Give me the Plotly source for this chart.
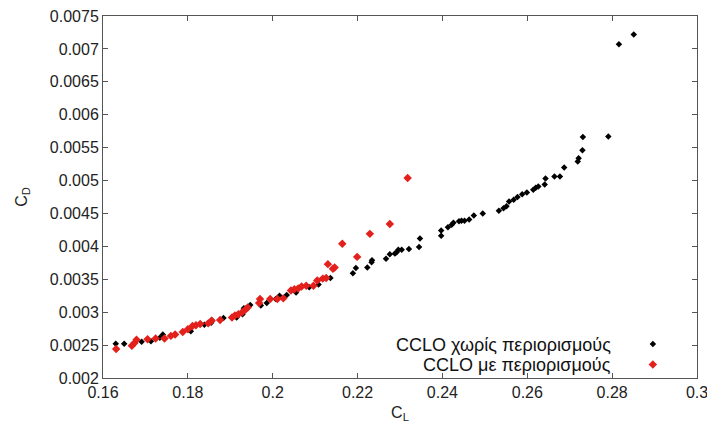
import plotly.graph_objects as go

# CCLO without constraints: lift coefficient vs drag coefficient
cl_free = [0.1630, 0.1650, 0.1691, 0.1713, 0.1734, 0.1741, 0.1807, 0.1839, 0.1855, 0.1856,
           0.1884, 0.1915, 0.1929, 0.1932, 0.1947, 0.1972, 0.1986, 0.2007, 0.2016, 0.2033,
           0.2055, 0.2086, 0.2108, 0.2136, 0.2189, 0.2196, 0.2223, 0.2233, 0.2234, 0.2267,
           0.2276, 0.2288, 0.2292, 0.2296, 0.2304, 0.2321, 0.2345, 0.2347, 0.2397, 0.2397,
           0.2413, 0.2422, 0.2426, 0.2439, 0.2445, 0.2452, 0.2463, 0.2474, 0.2495, 0.2533,
           0.2544, 0.2551, 0.2557, 0.2568, 0.2577, 0.2588, 0.2599, 0.2614, 0.2620, 0.2626,
           0.2641, 0.2643, 0.2664, 0.2677, 0.2687, 0.2719, 0.2721, 0.2730, 0.2731, 0.2791,
           0.2816, 0.2851]
cd_free = [0.00252, 0.00252, 0.00255, 0.00256, 0.00261, 0.00266, 0.00271, 0.00281, 0.00284, 0.00288,
           0.00291, 0.00292, 0.00297, 0.00306, 0.00311, 0.00310, 0.00314, 0.00320, 0.00325, 0.00326,
           0.00330, 0.00338, 0.00342, 0.00352, 0.00359, 0.00367, 0.00368, 0.00376, 0.00379, 0.00381,
           0.00388, 0.00389, 0.00391, 0.00395, 0.00395, 0.00396, 0.00399, 0.00412, 0.00416, 0.00424,
           0.00429, 0.00433, 0.00436, 0.00438, 0.00439, 0.00439, 0.00441, 0.00447, 0.00450, 0.00454,
           0.00458, 0.00461, 0.00468, 0.00471, 0.00475, 0.00479, 0.00482, 0.00486, 0.00489, 0.00491,
           0.00494, 0.00503, 0.00506, 0.00506, 0.00520, 0.00529, 0.00534, 0.00546, 0.00566, 0.00567,
           0.00707, 0.00722]

# CCLO with constraints
cl_con = [0.1631, 0.1668, 0.1674, 0.1679, 0.1705, 0.1724, 0.1745, 0.1760, 0.1770, 0.1788,
          0.1800, 0.1811, 0.1819, 0.1829, 0.1848, 0.1856, 0.1876, 0.1904, 0.1911, 0.1919,
          0.1928, 0.1936, 0.1941, 0.1968, 0.1970, 0.1994, 0.2011, 0.2025, 0.2043, 0.2051,
          0.2060, 0.2068, 0.2079, 0.2096, 0.2105, 0.2118, 0.2126, 0.2142, 0.2146, 0.2130,
          0.2199, 0.2164, 0.2229, 0.2276, 0.2318]
cd_con = [0.00244, 0.00249, 0.00253, 0.00258, 0.00259, 0.00260, 0.00260, 0.00264, 0.00266, 0.00270,
          0.00274, 0.00279, 0.00280, 0.00282, 0.00283, 0.00287, 0.00288, 0.00292, 0.00295, 0.00297,
          0.00300, 0.00304, 0.00307, 0.00314, 0.00320, 0.00320, 0.00320, 0.00321, 0.00333, 0.00335,
          0.00336, 0.00339, 0.00340, 0.00340, 0.00348, 0.00351, 0.00352, 0.00366, 0.00368, 0.00373,
          0.00384, 0.00404, 0.00419, 0.00434, 0.00504]

x_ticks = [0.16, 0.18, 0.2, 0.22, 0.24, 0.26, 0.28, 0.3]
x_labels = ["0.16", "0.18", "0.2", "0.22", "0.24", "0.26", "0.28", "0.3"]
y_ticks = [0.002, 0.0025, 0.003, 0.0035, 0.004, 0.0045, 0.005, 0.0055, 0.006, 0.0065, 0.007, 0.0075]
y_labels = ["0.002", "0.0025", "0.003", "0.0035", "0.004", "0.0045", "0.005", "0.0055",
            "0.006", "0.0065", "0.007", "0.0075"]

names = ["CCLO χωρίς περιορισμούς", "CCLO με περιορισμούς"]

FONT = "Liberation Sans, Arial, sans-serif"
RED = "#e3201b"

fig = go.Figure()
fig.add_trace(go.Scatter(
    x=cl_free, y=cd_free, mode="markers", name=" ",
    marker=dict(symbol="diamond", size=5, color="black"),
))
fig.add_trace(go.Scatter(
    x=cl_con, y=cd_con, mode="markers", name=" ",
    marker=dict(symbol="diamond", size=6.5, color=RED),
))

# legend text sits to the left of each sample marker
row_y = [0.0912, 0.0359]
for name, yy in zip(names, row_y):
    fig.add_annotation(
        x=0.8586, y=yy, xref="paper", yref="paper", text=name,
        showarrow=False, xanchor="right", yanchor="middle",
        font=dict(family=FONT, size=18, color="#111"),
    )

axis_common = dict(
    showgrid=False, zeroline=False, showline=True, linecolor="#555", linewidth=1,
    mirror="ticks", ticks="inside", ticklen=5, tickcolor="#555",
    tickfont=dict(family=FONT, size=16, color="#222"),
    ticklabeloverflow="allow",
)

fig.update_xaxes(
    range=[0.16, 0.3], tickvals=x_ticks, ticktext=x_labels,
    title=dict(text="C<sub>L</sub>", font=dict(family=FONT, size=16, color="#222"), standoff=6),
    **axis_common,
)
fig.update_yaxes(
    range=[0.002, 0.0075], tickvals=y_ticks, ticktext=y_labels,
    title=dict(text="C<sub>D</sub>", font=dict(family=FONT, size=16, color="#222"), standoff=18),
    **axis_common,
)

fig.update_layout(
    width=707, height=432,
    margin=dict(l=103, r=10, t=16, b=54, autoexpand=False),
    plot_bgcolor="white", paper_bgcolor="white",
    showlegend=True,
    legend=dict(
        x=0.892, y=0.136, xanchor="left", yanchor="top",
        bgcolor="rgba(0,0,0,0)", font=dict(family=FONT, size=13.5),
        itemwidth=30, tracegroupgap=0,
    ),
)

fig.write_html("out.html")
